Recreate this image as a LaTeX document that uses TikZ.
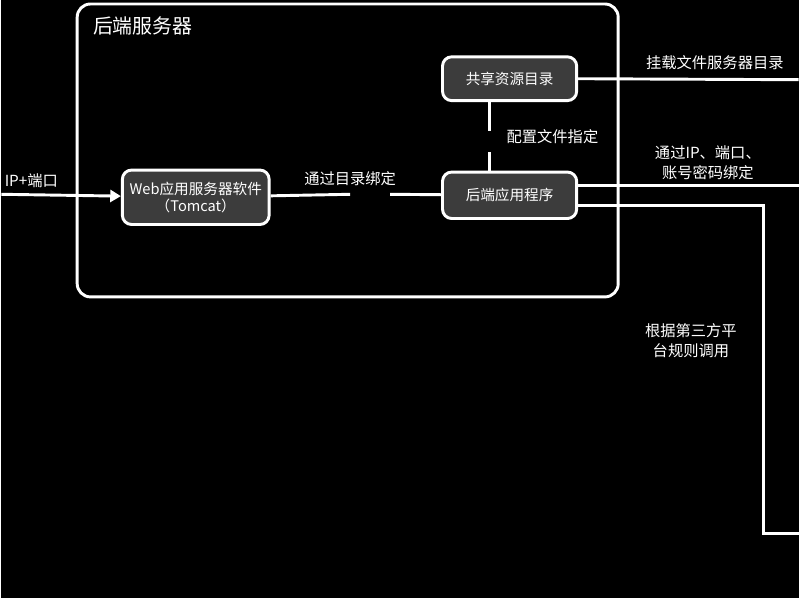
\documentclass[tikz,border=0pt]{standalone}
\usepackage{fontspec}
\setmainfont{Noto Sans CJK SC}
\usetikzlibrary{arrows.meta}
\tikzset{every picture/.style={line width=2.2pt}}
\tikzset{box/.style={draw=white,fill={rgb,255:red,60;green,60;blue,60},rounded corners=7pt,text=white,font=\fontsize{11}{13}\selectfont,align=center,inner sep=0pt},
lbl/.style={text=white,font=\fontsize{11.5}{15}\selectfont,align=center}}

\begin{document}
\begin{tikzpicture}[x=0.75pt,y=0.75pt,yscale=-1,xscale=1]
	\fill[black] (0,0) rectangle (800,600);

	%Outer box
	\draw [white,rounded corners=10pt] (76,4) rectangle (619,298);
	\node [lbl,anchor=west,font=\fontsize{15}{18}\selectfont] (title) at (86,26) {后端服务器};

	%Boxes
	\node [box,minimum width=110.5pt,minimum height=41pt] (tomcat) at (195,198) {Web应用服务器软件\\（Tomcat）};
	\node [box,minimum width=101pt,minimum height=35pt] (app) at (510,196) {后端应用程序};
	\node [box,minimum width=101pt,minimum height=33pt] (share) at (510,79) {共享资源目录};

	\coordinate (in) at (0,195);
	\coordinate (gapA) at (350,195);
	\coordinate (gapB) at (390,195);
	\coordinate (d1) at (490,102);
	\coordinate (d2) at (490,173);
	\coordinate (mnt) at (800,80);
	\coordinate (acc) at (800,186);
	\coordinate (c1) at (765,206);
	\coordinate (c2) at (765,535);
	\coordinate (api) at (800,535);

	%Connectors
	\draw [white,-{Triangle[length=8pt,width=9pt]}] (in) -- (tomcat);
	\draw [white] (tomcat) -- (gapA);
	\draw [white] (gapB) -- (app);
	\draw [white,dash pattern={on 22pt off 16pt}] (d1) -- (d2);
	\draw [white] (share.east) -- (mnt);
	\draw [white] (app.east |- acc) -- (acc);
	\draw [white] (app.east |- c1) -- (c1) -- (c2) -- (api);

	% Text Node
	\node [lbl] (t1) at (30,181) {IP+端口};
	\node [lbl] (t2) at (350,179) {通过目录绑定};
	\node [lbl] (t3) at (553,137) {配置文件指定};
	\node [lbl] (t4) at (716,63) {挂载文件服务器目录};
	\node [lbl] (t5) at (709,163) {通过IP、端口、\\账号密码绑定};
	\node [lbl] (t6) at (692,342) {根据第三方平\\台规则调用};
\end{tikzpicture}
\end{document}
